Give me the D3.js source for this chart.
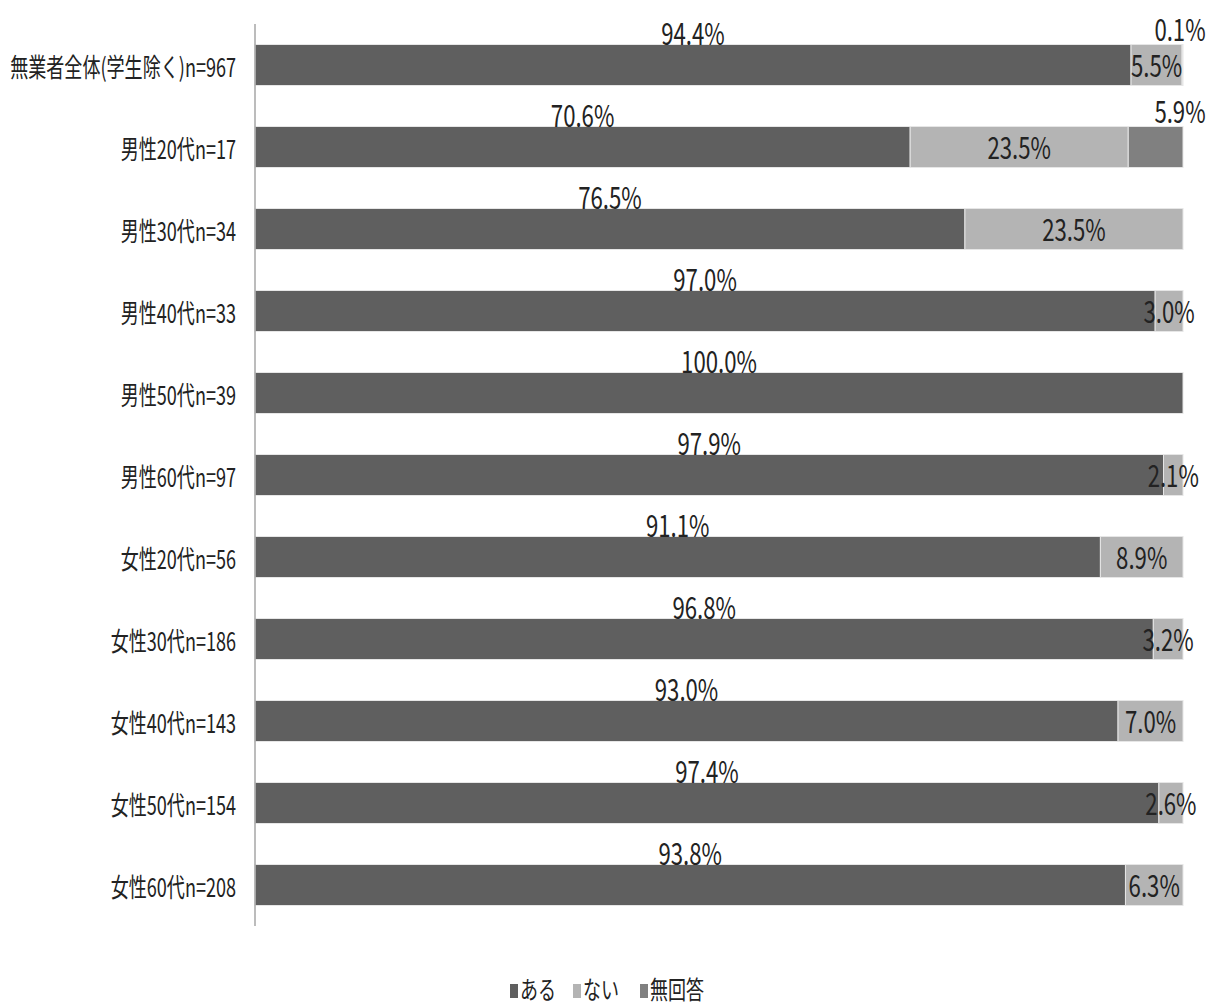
<!DOCTYPE html>
<html><head><meta charset="utf-8">
<script src="https://cdn.jsdelivr.net/npm/d3@7"></script>
<style>body{margin:0;background:#fff}svg{display:block}</style>
</head><body><svg id="c" width="1207" height="1007"></svg>
<script>
const categories = ["無業者全体(学生除く)n=967","男性20代n=17","男性30代n=34","男性40代n=33","男性50代n=39","男性60代n=97","女性20代n=56","女性30代n=186","女性40代n=143","女性50代n=154","女性60代n=208"];
const seriesNames = ["ある","ない","無回答"];
const aru    = [94.4,70.6,76.5,97.0,100.0,97.9,91.1,96.8,93.0,97.4,93.8];
const nai    = [5.5,23.5,23.5,3.0,0,2.1,8.9,3.2,7.0,2.6,6.3];
const mukaito= [0.1,5.9,0,0,0,0,0,0,0,0,0];
const colors = ["#5f5f5f","#b4b4b4","#808080"];

const svg = d3.select("#c");
const FONT = "'Noto Sans CJK JP','Noto Sans',sans-serif";
const x = d3.scaleLinear().domain([0,100]).range([255,1183]);
const y = d3.scaleBand().domain(categories).range([24,926]).paddingInner(0.5).paddingOuter(0.25);

function stxt(g, px, py, str, size, anchor, baseline, sx){
  const gg = g.append("g").attr("transform",`translate(${px},${py}) scale(${sx},1)`);
  gg.append("text").attr("text-anchor",anchor).attr("dominant-baseline",baseline||"alphabetic")
    .style("font-family",FONT).style("font-size",size+"px").attr("fill","#222").text(str);
  return gg;
}

const rows = categories.map((c,i)=>({cat:c, vals:[aru[i],nai[i],mukaito[i]]}));
const stack = rows.map(r=>{let acc=0; return r.vals.map((v,k)=>{const s={k,v,x0:acc,x1:acc+v,cat:r.cat}; acc+=v; return s;});});

const bars = svg.append("g");
stack.forEach(segs=>{
  segs.forEach(s=>{
    if(s.v<=0) return;
    bars.append("rect").attr("x",x(s.x0)).attr("y",y(s.cat)).attr("width",x(Math.min(s.x1,100))-x(s.x0))
      .attr("height",y.bandwidth()).attr("fill",colors[s.k]).attr("stroke","#e6e6e6").attr("stroke-width",1);
  });
});

// axis
svg.append("line").attr("x1",255).attr("x2",255).attr("y1",24).attr("y2",926).attr("stroke","#a6a6a6").attr("stroke-width",1.5);

// category labels
const lab = svg.append("g");
categories.forEach(c=>{
  stxt(lab, 236, y(c)+y.bandwidth()/2, c, 26, "end", "central", 0.695);
});

// value labels
const vl = svg.append("g");
stack.forEach(segs=>{
  segs.forEach(s=>{
    if(s.v<=0) return;
    const top = y(s.cat), mid = top + y.bandwidth()/2;
    const t = s.v.toFixed(1)+"%";
    if(s.k===0) stxt(vl, (x(s.x0)+x(s.x1))/2, top, t, 30, "middle", null, 0.74);
    else if(s.k===1) stxt(vl, (x(s.x0)+x(Math.min(s.x1,100)))/2, mid+12, t, 30, "middle", null, 0.74);
    else stxt(vl, x(100)-3, top-4, t, 30, "middle", null, 0.74);
  });
});

// legend
const lg = svg.append("g");
const legX = [510, 573, 640];
seriesNames.forEach((n,i)=>{
  lg.append("rect").attr("x",legX[i]).attr("y",984).attr("width",8).attr("height",14).attr("fill",colors[i]);
  stxt(lg, legX[i]+10, 999, n, 25, "start", null, 0.72);
});
</script></body></html>
